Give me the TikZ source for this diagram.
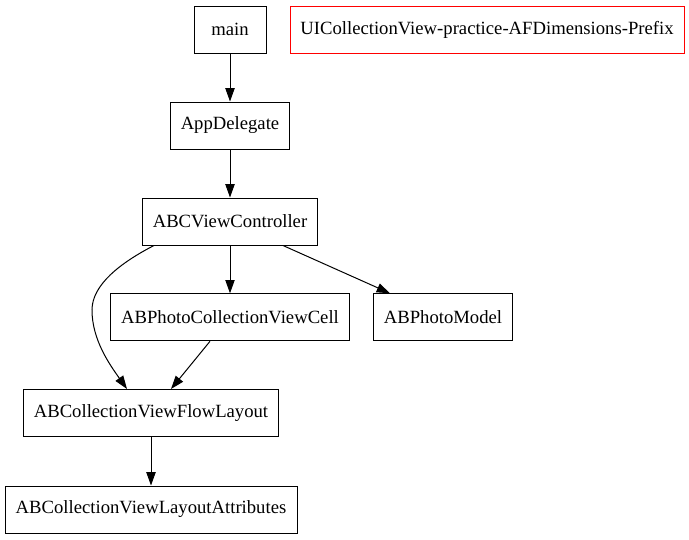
\documentclass[tikz,border=0pt]{standalone}
\usepackage{fontspec}
\setmainfont{Liberation Serif}
\usetikzlibrary{arrows.meta}
\newcommand\gvfont{\fontsize{18.67pt}{22pt}\selectfont}
\begin{document}
\begin{tikzpicture}[x=1pt,y=-1pt,
  box/.style={draw=black,line width=1pt,rectangle,inner sep=0pt,minimum height=47pt,font=\gvfont},
  arr/.style={draw=black,line width=1pt,-{Triangle[length=13.3pt,width=9.3pt]}}]
\useasboundingbox (0,0) rectangle (689,539);
\node[box,minimum width=72pt] (main) at (230,29.5) {main};
\node[box,draw=red,minimum width=394pt] (prefix) at (487,29.5) {UICollectionView-practice-AFDimensions-Prefix};
\node[box,minimum width=119pt] (app) at (230,125.5) {AppDelegate};
\node[box,minimum width=175pt] (vc) at (230,221.5) {ABCViewController};
\node[box,minimum width=239pt] (cell) at (230,317.3) {ABPhotoCollectionViewCell};
\node[box,minimum width=139pt] (model) at (443,317.3) {ABPhotoModel};
\node[box,minimum width=255pt] (flow) at (151,413) {ABCollectionViewFlowLayout};
\node[box,minimum width=292pt] (attr) at (151,509.5) {ABCollectionViewLayoutAttributes};
\draw[arr] (main.south) -- (app.north);
\draw[arr] (app.south) -- (vc.north);
\draw[arr] (vc.south) -- (cell.north);
\draw[arr] ([xshift=53pt]vc.south) -- ([xshift=-53pt]model.north);
\draw[arr] ([xshift=-20pt]cell.south) -- ([xshift=20pt]flow.north);
\coordinate (bend) at (92,310);
\draw[arr] ([xshift=-76pt]vc.south) .. controls (120,263) and (92,285) .. (bend) .. controls (92,340) and (110,365) .. ([xshift=-24pt]flow.north);
\draw[arr] (flow.south) -- (attr.north);
\end{tikzpicture}
\end{document}
